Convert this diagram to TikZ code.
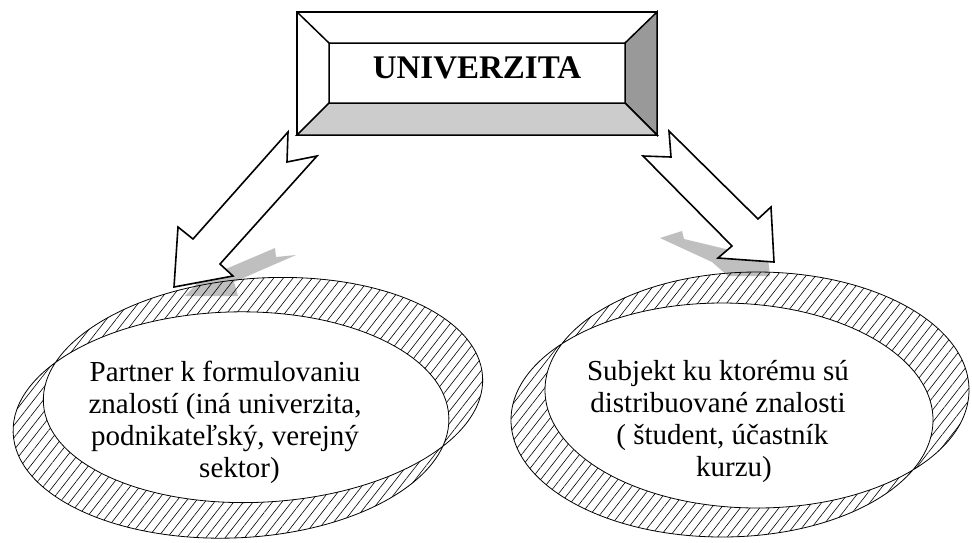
\documentclass[tikz,border=0pt]{standalone}
\usepackage{fontspec}
\setmainfont{Liberation Serif}
\usetikzlibrary{patterns.meta}
\tikzset{
  ring/.style={draw=black,line width=0.8pt,even odd rule,pattern={Lines[angle=52,distance=7.6pt,line width=0.6pt]}},
  blockarrow/.style={draw=black,fill=white,line width=1.6pt,line join=miter},
  castshadow/.style={fill=black!25,draw=none},
  bevel/.style={draw=black,line width=1.5pt,line join=miter},
  ringtext/.style={align=center,font=\fontsize{29}{32}\selectfont}
}
\begin{document}
\begin{tikzpicture}[x=1pt,y=-1pt]
\useasboundingbox (0,0) rectangle (972,542);
\coordinate (A1) at (231,425);
\coordinate (A2) at (263,390);
\coordinate (B1) at (722,420);
\coordinate (B2) at (757,390);
\fill[castshadow] (275,248) -- (276,257) -- (296,255) -- (234,282) -- (238,296) -- (185,296) -- (200,280) -- cycle;
\fill[castshadow] (660,238) -- (682,231) -- (684,239) -- (730,250) -- (768,258) -- (770,276) -- (728,276) -- (712,262) -- cycle;
\path[ring] (A1) ellipse [x radius=218, y radius=113, rotate=2] (A2) ellipse [x radius=220, y radius=112, rotate=3.5];
\path[ring] (B1) ellipse [x radius=211, y radius=117] (B2) ellipse [x radius=212, y radius=118];
\draw[bevel,fill=white] (297,12) rectangle (657,135);
\draw[bevel,fill=black!40] (657,12) -- (625,43) -- (625,103) -- (657,135) -- cycle;
\draw[bevel,fill=black!20] (297,135) -- (329,103) -- (625,103) -- (657,135) -- cycle;
\draw[bevel] (297,12) -- (329,43) -- (625,43) (329,43) -- (329,103);
\node[font=\fontsize{33}{36}\selectfont\bfseries] (uni) at (477,68) {UNIVERZITA};
\draw[blockarrow] (288,132) -- (193,239) -- (178,227) -- (174,287) -- (233,276) -- (220,264) -- (317,156) -- (287,162) -- cycle;
\draw[blockarrow] (669,131) -- (758,219) -- (771,207) -- (774,262) -- (718,258) -- (732,246) -- (643,156) -- (671,157) -- cycle;
\node[ringtext] (partner) at (225,422) {Partner k formulovaniu\\znalostí (iná univerzita,\\podnikateľský, verejný\\\hspace*{1em}sektor)};
\node[ringtext] (subjekt) at (718,421) {Subjekt ku ktorému sú\\distribuované znalosti\\\hspace*{0.3em}( študent, účastník\\\hspace*{1.1em}kurzu)};
\end{tikzpicture}
\end{document}
